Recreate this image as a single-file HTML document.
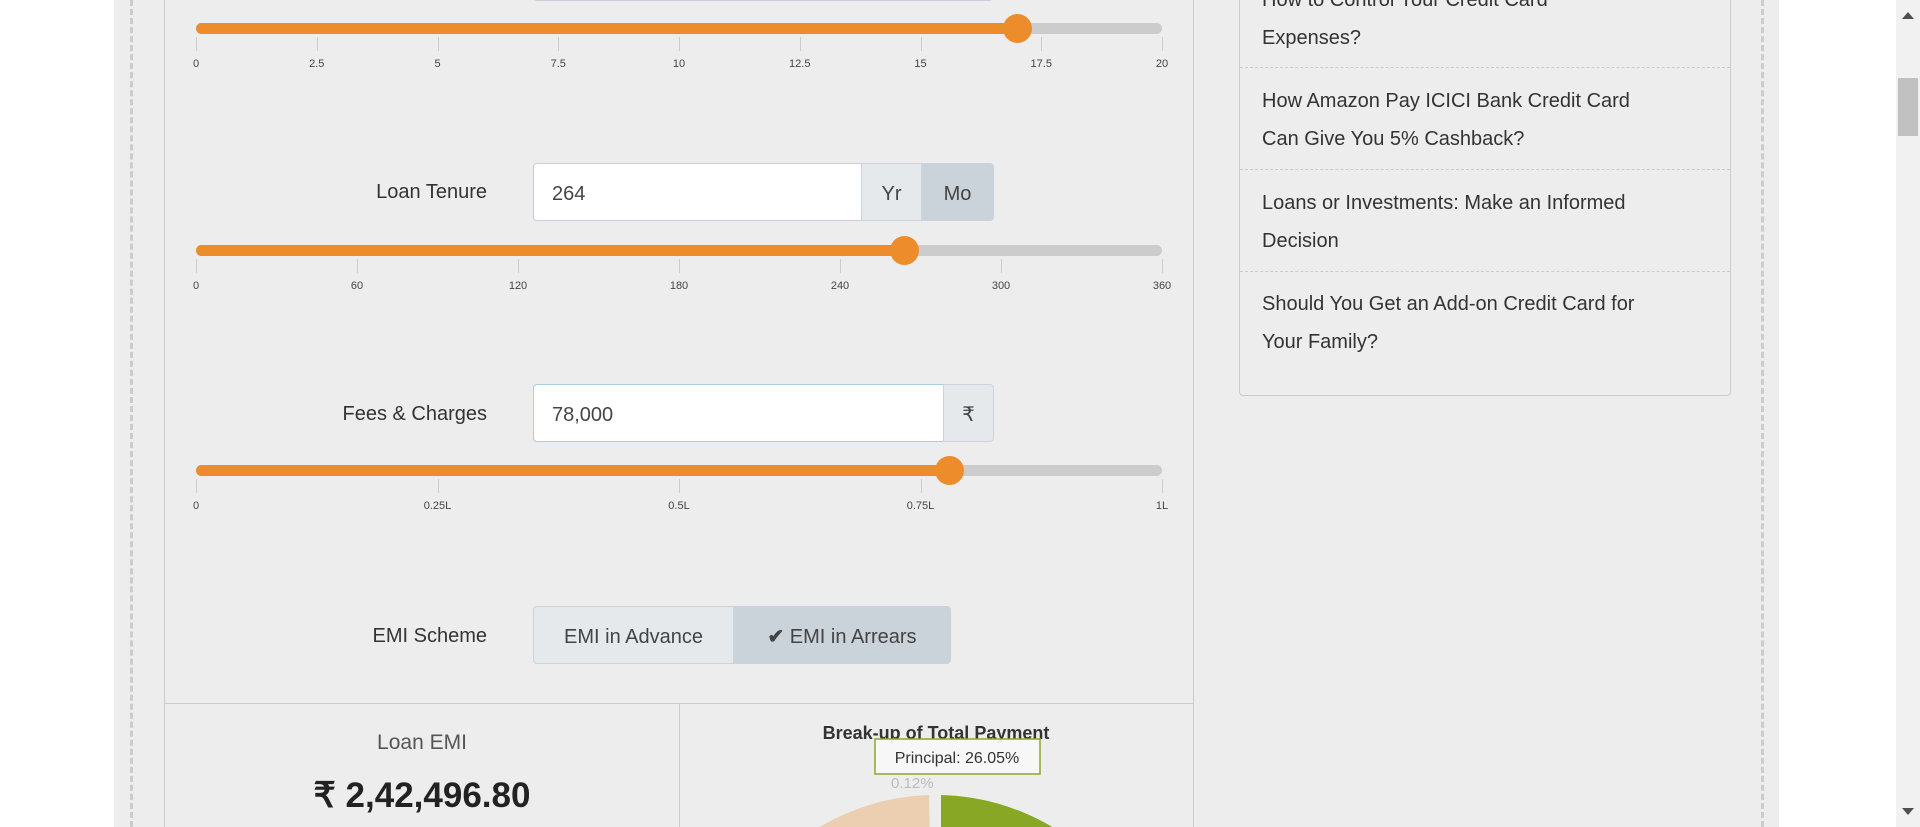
<!DOCTYPE html>
<html><head><meta charset="utf-8">
<style>
*{box-sizing:border-box;margin:0;padding:0}
html,body{width:1920px;height:827px;overflow:hidden}
body{background:#fff;font-family:"Liberation Sans",sans-serif;position:relative;color:#333}
.abs{position:absolute}
.lbl{position:absolute;right:1433px;font-size:20px;color:#333;text-align:right;white-space:nowrap}
.inp{position:absolute;background:#fff;border:1px solid #ccd;border-radius:4px 0 0 4px;font-size:20px;padding-left:18px;color:#444;line-height:60px}
.addon{position:absolute;background:#e6e9ec;border:1px solid #ccd3da;font-size:20px;color:#444;text-align:center;line-height:60px}
.tick{position:absolute;width:1px;height:14px;background:#ccc}
.tl{position:absolute;font-size:11px;color:#444;transform:translateX(-50%)}
.side{position:absolute;left:1262px;font-size:20px;line-height:38px;color:#333;white-space:nowrap}
.sep{position:absolute;left:1240px;width:490px;border-top:1px dashed #ccc}
</style></head><body>
<div class="abs" style="left:114px;top:0;width:1665px;height:827px;background:#ededed"></div>
<div class="abs" style="left:130px;top:0;height:827px;border-left:3px dashed #ccc"></div>
<div class="abs" style="left:1761px;top:0;height:827px;border-left:3px dashed #ccc"></div>
<div class="abs" style="left:164px;top:0;width:1030px;height:827px;border-left:1px solid #ccc;border-right:1px solid #ccc"></div>
<div class="abs" style="left:533px;top:-5px;width:460px;height:6px;border:1px solid #ccd;background:#fff;border-radius:0 0 4px 4px"></div>

<div id="sliders"></div>

<div class="lbl" style="top:181px">Loan Tenure</div>
<div class="inp" style="left:533px;top:163px;width:329px;height:58px">264</div>
<div class="addon" style="left:861px;top:163px;width:61px;height:58px">Yr</div>
<div class="addon" style="left:921px;top:163px;width:73px;height:58px;background:#cad2da;border-radius:0 4px 4px 0">Mo</div>

<div class="lbl" style="top:403px">Fees &amp; Charges</div>
<div class="inp" style="left:533px;top:384px;width:411px;height:58px;border-color:#aacde0">78,000</div>
<div class="addon" style="left:943px;top:384px;width:51px;height:58px;border-radius:0 4px 4px 0">₹</div>

<div class="lbl" style="top:625px">EMI Scheme</div>
<div class="addon" style="left:533px;top:606px;width:201px;height:58px;border-radius:4px 0 0 4px">EMI in Advance</div>
<div class="addon" style="left:733px;top:606px;width:218px;height:58px;background:#cad2da;border-radius:0 4px 4px 0"><b>✔</b> EMI in Arrears</div>

<div class="abs" style="left:164px;top:703px;width:1030px;border-top:1px solid #ccc"></div>
<div class="abs" style="left:679px;top:703px;height:124px;border-left:1px solid #ccc"></div>
<div class="abs" style="left:165px;width:514px;top:731px;text-align:center;font-size:21px;color:#555">Loan EMI</div>
<div class="abs" style="left:165px;width:514px;top:776px;text-align:center;font-size:35px;font-weight:bold;color:#222">₹ 2,42,496.80</div>

<svg class="abs" style="left:680px;top:704px" width="514" height="123" id="pie"></svg>

<div class="abs" style="left:1239px;top:-10px;width:492px;height:406px;border:1px solid #ccc;border-radius:4px"></div>
<div class="side" style="top:-19px">How to Control Your Credit Card<br>Expenses?</div>
<div class="sep" style="top:67px"></div>
<div class="side" style="top:82px">How Amazon Pay ICICI Bank Credit Card<br>Can Give You 5% Cashback?</div>
<div class="sep" style="top:169px"></div>
<div class="side" style="top:184px">Loans or Investments: Make an Informed<br>Decision</div>
<div class="sep" style="top:271px"></div>
<div class="side" style="top:285px">Should You Get an Add-on Credit Card for<br>Your Family?</div>

<div class="abs" style="left:1896px;top:0;width:24px;height:827px;background:#f1f1f1"></div>
<div class="abs" style="left:1898px;top:78px;width:20px;height:58px;background:#c1c1c1"></div>
<div class="abs" style="left:1902px;top:12px;width:0;height:0;border:6px solid transparent;border-bottom:7px solid #505050;border-top:none"></div>
<div class="abs" style="left:1902px;top:808px;width:0;height:0;border:6px solid transparent;border-top:7px solid #505050;border-bottom:none"></div>

<script>
// slider data
const rateTicks=["0","2.5","5","7.5","10","12.5","15","17.5","20"];
const rateMax=[20];
const rateValue=[17];
const tenureTicks=["0","60","120","180","240","300","360"];
const tenureMax=[360];
const tenureValue=[264];
const feeTicks=["0","0.25L","0.5L","0.75L","1L"];
const feeMax=[100000];
const feeValue=[78000];
// pie data
const pieCategories=["Principal","Interest","Fees & Charges"];
const pieValues=[26.05,73.83,0.12];
const pieColors=["#88a825","#eccfb0","#e8b890"];

const X0=196,X1=1162;
function sx(v,max){return X0+(v/max)*(X1-X0);}
const host=document.getElementById('sliders');
function slider(name,y,ticks,max,val){
  const tr=document.createElement('div');tr.className='abs';
  
  
  tr.style.cssText=`left:${X0}px;top:${y-6}px;width:${X1-X0}px;height:11px;border-radius:6px;background:#ccc`;
  host.appendChild(tr);
  const fl=document.createElement('div');fl.className='abs';
  
  
  fl.style.cssText=`left:${X0}px;top:${y-6}px;width:${sx(val,max)-X0}px;height:11px;border-radius:6px;background:#ed8c2b`;
  host.appendChild(fl);
  ticks.forEach((t,i)=>{
    const x=X0+i*(X1-X0)/(ticks.length-1);
    const k=document.createElement('div');k.className='tick';
    
    
    k.style.left=x+'px';k.style.top=(y+8)+'px';host.appendChild(k);
    const l=document.createElement('div');l.className='tl';
    
    
    l.style.left=x+'px';l.style.top=(y+29)+'px';l.textContent=t;host.appendChild(l);
  });
  const th=document.createElement('div');th.className='abs';
  
  
  th.style.cssText=`left:${sx(val,max)-14}px;top:${y-15}px;width:29px;height:29px;border-radius:50%;background:#ed8c2b`;
  host.appendChild(th);
}
slider('interest-rate-slider',29,rateTicks,rateMax[0],rateValue[0]);
slider('loan-tenure-slider',251,tenureTicks,tenureMax[0],tenureValue[0]);
slider('fees-slider',471,feeTicks,feeMax[0],feeValue[0]);

// pie
const svg=document.getElementById('pie');const NS='http://www.w3.org/2000/svg';
const cx=256,cy=318,r=232;
const total=pieValues.reduce((a,b)=>a+b,0);
let a0=0;
pieValues.forEach((v,i)=>{
  const a1=a0+v/total*Math.PI*2;
  const p=document.createElementNS(NS,'path');
  const x0=cx+r*Math.sin(a0),y0=cy-r*Math.cos(a0),x1=cx+r*Math.sin(a1),y1=cy-r*Math.cos(a1);
  p.setAttribute('d',`M${cx},${cy}L${x0},${y0}A${r},${r} 0 ${a1-a0>Math.PI?1:0} 1 ${x1},${y1}Z`);
  p.setAttribute('fill',pieColors[i]);p.setAttribute('stroke','#ededed');p.setAttribute('stroke-width','10');
  
  
  svg.appendChild(p);
  a0=a1;
});
function txt(x,y,s,attrs,name){const t=document.createElementNS(NS,'text');t.setAttribute('x',x);t.setAttribute('y',y);for(const k in attrs)t.setAttribute(k,attrs[k]);t.textContent=s;
  
  
  svg.appendChild(t);}
txt(211,84,pieValues[2].toFixed(2)+'%',{'font-size':15,fill:'#bbb','font-family':'Liberation Sans'},'fees-percent-label');
txt(256,35,'Break-up of Total Payment',{'font-size':18,'font-weight':'bold',fill:'#333','text-anchor':'middle','font-family':'Liberation Sans'},'chart-title');
const tb=document.createElementNS(NS,'rect');tb.setAttribute('x',195);tb.setAttribute('y',35);tb.setAttribute('width',165);tb.setAttribute('height',35);tb.setAttribute('fill','#f7f7f7');tb.setAttribute('fill-opacity','0.92');tb.setAttribute('stroke','#8aa72a');tb.setAttribute('stroke-width','1.5');


svg.appendChild(tb);
txt(277,59,pieCategories[0]+': '+pieValues[0].toFixed(2)+'%',{'font-size':16,fill:'#333','text-anchor':'middle','font-family':'Liberation Sans'},'tooltip-text');
</script>
</body></html>
